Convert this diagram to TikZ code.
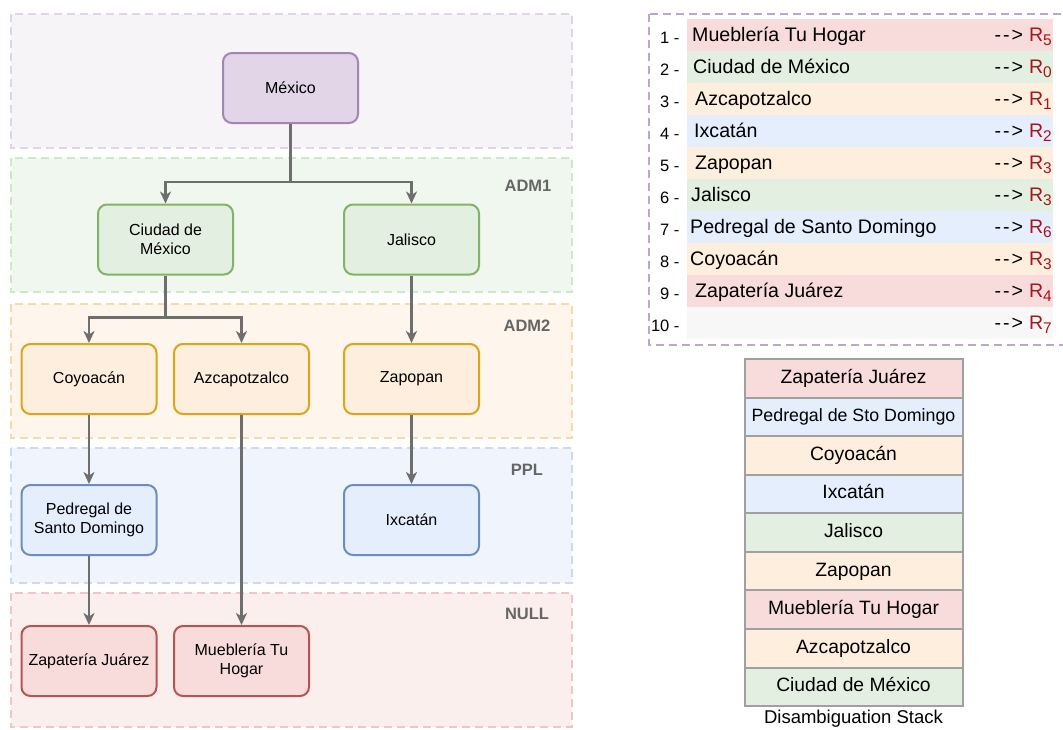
\documentclass[tikz,border=0pt]{standalone}
\usepackage{fontspec}
\setmainfont{Liberation Sans}
\usepackage{xcolor}
\usepackage{tikz}
\usetikzlibrary{arrows.meta}
\definecolor{bandfillPurple}{HTML}{F7F4F8}
\definecolor{banddrawPurple}{HTML}{E2D4E8}
\definecolor{bandfillGreen}{HTML}{F0F7EF}
\definecolor{banddrawGreen}{HTML}{CFE5CC}
\definecolor{bandfillOrange}{HTML}{FEF5EC}
\definecolor{banddrawOrange}{HTML}{F6DAAA}
\definecolor{bandfillBlue}{HTML}{F0F5FD}
\definecolor{banddrawBlue}{HTML}{CBDAF1}
\definecolor{bandfillRed}{HTML}{FBEFEE}
\definecolor{banddrawRed}{HTML}{EFC6C5}
\definecolor{fillPurple}{HTML}{E1D5E7}
\definecolor{drawPurple}{HTML}{A583B5}
\definecolor{fillGreen}{HTML}{E3EFE0}
\definecolor{drawGreen}{HTML}{82B366}
\definecolor{fillOrange}{HTML}{FEEEDD}
\definecolor{drawOrange}{HTML}{DCA41C}
\definecolor{fillBlue}{HTML}{E5EEFC}
\definecolor{drawBlue}{HTML}{6C8EBF}
\definecolor{fillRed}{HTML}{F8DCDB}
\definecolor{drawRed}{HTML}{B85450}
\definecolor{fillGray}{HTML}{F7F7F7}
\definecolor{LinkGray}{HTML}{6E6E6E}
\definecolor{LevelGray}{HTML}{666666}
\definecolor{StackGray}{HTML}{A0A0A0}
\definecolor{PanelLilac}{HTML}{BBA6CC}
\definecolor{RegRed}{HTML}{A8141B}

\begin{document}
\begin{tikzpicture}[x=1pt,y=-1pt,
  box/.style={draw,rounded corners=9pt,line width=2pt,minimum width=135pt,minimum height=70pt,align=center,font=\fontsize{16}{19}\selectfont},
  band/.style={dash pattern=on 8pt off 5pt,line width=1.6pt},
  link/.style={draw=LinkGray,line width=2.2pt,-{Stealth[length=12pt,width=11pt,inset=3.5pt]}},
  level/.style={font=\bfseries\fontsize{16.5}{19}\selectfont,text=LevelGray},
  cell/.style={draw=StackGray,line width=2pt,minimum width=218pt,minimum height=38.56pt,text height=14pt,text depth=4pt,font=\fontsize{19.3}{22}\selectfont}]
\useasboundingbox (0,0) rectangle (1063,729);
\foreach \col/\t/\b in {Purple/14/148,Green/158/292,Orange/304/438,Blue/448/583,Red/593/727}{\draw[band,draw=banddraw\col,fill=bandfill\col] (11,\t) rectangle (572,\b);}
\node[level] (adm1) at (528,186) {ADM1};
\node[level] (adm2) at (527,326) {ADM2};
\node[level] (ppl) at (527,470) {PPL};
\node[level] (null) at (527,614) {NULL};

\node[box,fill=fillPurple,draw=drawPurple] (mex) at (290.5,88) {México};
\node[box,fill=fillGreen,draw=drawGreen] (cdmx) at (165.5,239.5) {Ciudad de\\México};
\node[box,fill=fillGreen,draw=drawGreen] (jal) at (411.5,239.5) {Jalisco};
\node[box,fill=fillOrange,draw=drawOrange] (coy) at (89,379) {Coyoacán};
\node[box,fill=fillOrange,draw=drawOrange] (azc) at (241.5,379) {Azcapotzalco};
\node[box,fill=fillOrange,draw=drawOrange] (zap) at (411.5,379) {Zapopan};
\node[box,fill=fillBlue,draw=drawBlue] (ped) at (89,520) {Pedregal de\\Santo Domingo};
\node[box,fill=fillBlue,draw=drawBlue] (ixc) at (411.5,520) {Ixcatán};
\node[box,fill=fillRed,draw=drawRed] (zapj) at (89,661) {Zapatería Juárez};
\node[box,fill=fillRed,draw=drawRed] (mue) at (241.5,661) {Mueblería Tu\\Hogar};

\draw[link] (mex.south) -- ++(0,58) -| (cdmx.north);
\draw[link] (mex.south) -- ++(0,58) -| (jal.north);
\draw[link] (cdmx.south) -- ++(0,42) -| (coy.north);
\draw[link] (cdmx.south) -- ++(0,42) -| (azc.north);
\draw[link] (jal) -- (zap);
\draw[link] (coy) -- (ped);
\draw[link] (zap) -- (ixc);
\draw[link] (ped) -- (zapj);
\draw[link] (azc) -- (mue);

\draw[PanelLilac,band,line width=2pt] (649,14) rectangle (1070,345);
\foreach \n/\name/\dx/\r/\col in {1/Mueblería Tu Hogar/692/5/Red,2/Ciudad de México/693/0/Green,3/Azcapotzalco/695/1/Orange,4/Ixcatán/694/2/Blue,5/Zapopan/695/3/Orange,6/Jalisco/691/3/Green,7/Pedregal de Santo Domingo/690/6/Blue,8/Coyoacán/690/3/Orange,9/Zapatería Juárez/695/4/Red,10//690/7/Gray}{
  \pgfmathsetmacro{\rowtop}{19+32*(\n-1)}
  \fill[fill\col] (687,\rowtop) rectangle (1053,\rowtop+32);
  \node[anchor=base east,font=\fontsize{16.5}{19}\selectfont] (num\n) at (683,\rowtop+24) {\n\ -};
  \node[anchor=base west,inner sep=0pt,font=\fontsize{19.6}{22}\selectfont] (item\n) at (\dx,\rowtop+22) {\name};
  \node[anchor=base east,inner sep=0pt,font=\fontsize{19.6}{22}\selectfont] (reg\n) at (1052,\rowtop+22) {-\kern2pt-\kern2pt>\kern6pt\textcolor{RegRed}{R\raisebox{-4.5pt}{\fontsize{15.5}{16}\selectfont\r}}};
}

\foreach \k/\name/\col/\fs in {0/Zapatería Juárez/Red/19.3,1/Pedregal de Sto Domingo/Blue/17.8,2/Coyoacán/Orange/19.3,3/Ixcatán/Blue/19.3,4/Jalisco/Green/19.3,5/Zapopan/Orange/19.3,6/Mueblería Tu Hogar/Red/19.3,7/Azcapotzalco/Orange/19.3,8/Ciudad de México/Green/19.3}{
  \node[cell,fill=fill\col,font=\fontsize{\fs}{22}\selectfont] (stack\k) at (853.5,378.3+38.56*\k) {\name};
}
\node[font=\fontsize{18.5}{21}\selectfont] (stacklabel) at (853.5,719) {Disambiguation Stack};
\end{tikzpicture}
\end{document}
